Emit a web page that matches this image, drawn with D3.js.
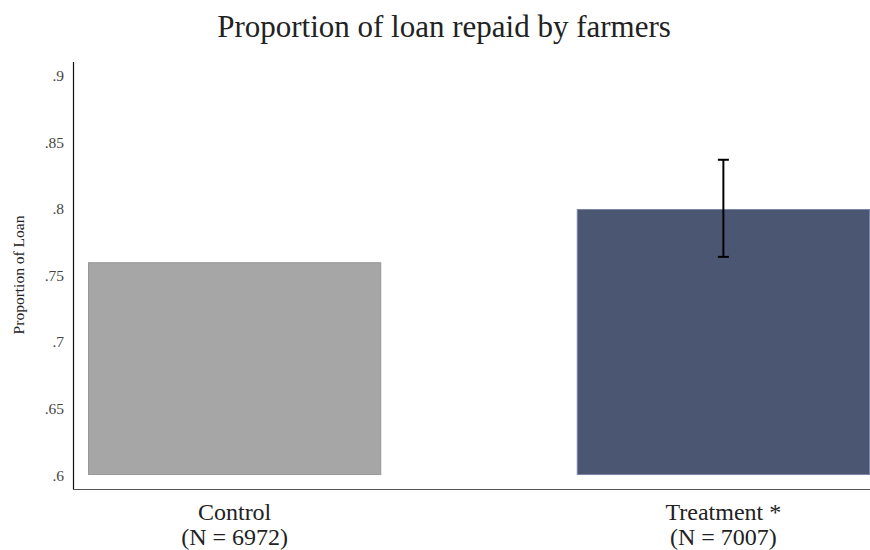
<!DOCTYPE html>
<html>
<head>
<meta charset="utf-8">
<script src="https://cdn.jsdelivr.net/npm/d3@7/dist/d3.min.js"></script>
<style>
  body { margin: 0; background: #fff; }
  svg { display: block; }
  text { font-family: "Liberation Serif", "DejaVu Serif", serif; }
</style>
</head>
<body>
<svg id="chart" width="870" height="550"></svg>
<script>
// Mean share of loan repaid, by study arm
const groups = ["Control", "Treatment *"];
const sampleSizes = ["(N = 6972)", "(N = 7007)"];
const means = [0.760, 0.800];
// 95% CI for the treatment arm only
const ciLow = [null, 0.764];
const ciHigh = [null, 0.837];
const yTicks = [0.6, 0.65, 0.7, 0.75, 0.8, 0.85, 0.9];
const yTickLabels = [".6", ".65", ".7", ".75", ".8", ".85", ".9"];
const barColors = ["#a6a6a6", "#4b5673"];
const barStrokes = ["#999999", "#7b86a6"];

const svg = d3.select("#chart");
const axisX = 73, plotBottom = 489, plotTop = 62;

const y = d3.scaleLinear().domain([0.5895, 0.9105]).range([plotBottom, plotTop]);
const x = d3.scaleBand().domain(groups).range([88, 870]).paddingInner(0.4).paddingOuter(0);

// Title
svg.append("text")
  .attr("x", 444).attr("y", 37)
  .attr("text-anchor", "middle")
  .attr("font-size", 31)
  .attr("fill", "#222")
  .text("Proportion of loan repaid by farmers");

// Bars start at .6
const base = 0.6;
svg.selectAll("rect.bar")
  .data(groups)
  .join("rect")
  .attr("class", "bar")
  .attr("x", d => x(d) + 0.5)
  .attr("width", x.bandwidth() - 1)
  .attr("y", (d, i) => y(means[i]) + 0.5)
  .attr("height", (d, i) => y(base) - y(means[i]) - 1)
  .attr("fill", (d, i) => barColors[i])
  .attr("stroke", (d, i) => barStrokes[i])
  .attr("stroke-width", 1);

// Error bar
groups.forEach((g, i) => {
  if (ciLow[i] == null) return;
  const cx = x(g) + x.bandwidth() / 2;
  const eg = svg.append("g").attr("stroke", "#000").attr("stroke-width", 2);
  eg.append("line").attr("x1", cx).attr("x2", cx).attr("y1", y(ciHigh[i])).attr("y2", y(ciLow[i]));
  eg.append("line").attr("x1", cx - 5.5).attr("x2", cx + 5.5).attr("y1", y(ciHigh[i])).attr("y2", y(ciHigh[i]));
  eg.append("line").attr("x1", cx - 5.5).attr("x2", cx + 5.5).attr("y1", y(ciLow[i])).attr("y2", y(ciLow[i]));
});

// Y axis
const yAxis = d3.axisLeft(y)
  .tickValues(yTicks)
  .tickFormat((d, i) => yTickLabels[i])
  .tickSize(0)
  .tickPadding(9);
const ya = svg.append("g").attr("transform", `translate(${axisX},0)`).call(yAxis);
ya.select(".domain").remove();
ya.selectAll("text").attr("font-size", 15.5).attr("fill", "#444")
  .style("font-family", '"Liberation Serif", serif');
svg.append("line").attr("x1", axisX + 0.5).attr("x2", axisX + 0.5)
  .attr("y1", plotTop).attr("y2", plotBottom + 0.5)
  .attr("stroke", "#111").attr("stroke-width", 1.2);

// X axis baseline
svg.append("line").attr("x1", axisX).attr("x2", 870)
  .attr("y1", plotBottom + 0.5).attr("y2", plotBottom + 0.5)
  .attr("stroke", "#555").attr("stroke-width", 1.2);

// Category labels
const xl = svg.append("g");
groups.forEach((g, i) => {
  const cx = x(g) + x.bandwidth() / 2;
  xl.append("text").attr("x", cx).attr("y", 520).attr("text-anchor", "middle")
    .attr("font-size", 24).attr("fill", "#222").text(g);
  xl.append("text").attr("x", cx).attr("y", 545).attr("text-anchor", "middle")
    .attr("font-size", 24).attr("fill", "#222").text(sampleSizes[i]);
});

// Y axis title
svg.append("text")
  .attr("transform", "translate(24,275) rotate(-90)")
  .attr("text-anchor", "middle")
  .attr("font-size", 15.5)
  .attr("fill", "#222")
  .text("Proportion of Loan");
</script>
</body>
</html>
